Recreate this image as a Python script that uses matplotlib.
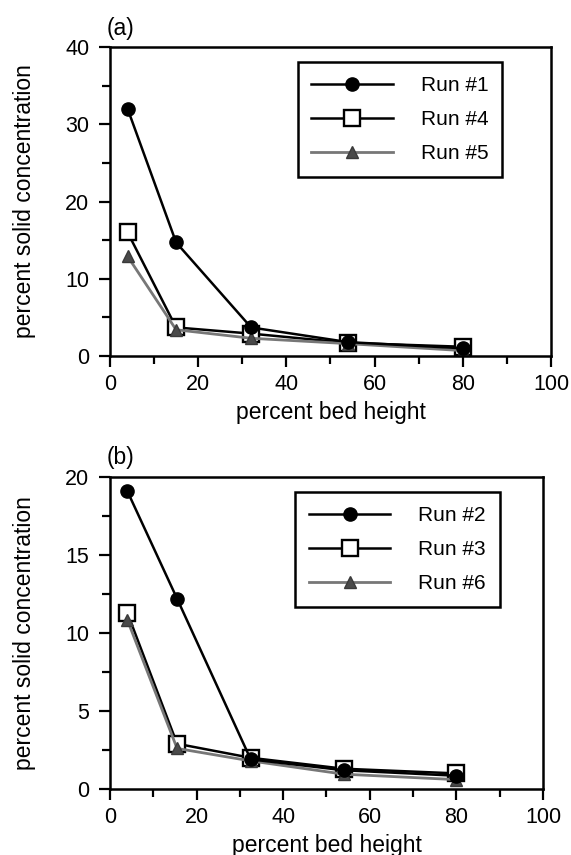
import numpy as np
import matplotlib.pyplot as plt
from matplotlib.ticker import MultipleLocator

plt.rcParams['font.family'] = ['Liberation Sans', 'DejaVu Sans']

# panel (a)
x_a = [4, 15, 32, 54, 80]
run1 = [32.0, 14.7, 3.7, 1.8, 1.0]
run4 = [16.0, 3.7, 2.9, 1.7, 1.2]
run5 = [12.9, 3.4, 2.3, 1.6, 0.7]

# panel (b)
x_b = [4, 15.5, 32.5, 54, 80]
run2 = [19.1, 12.2, 1.9, 1.2, 0.85]
run3 = [11.3, 2.9, 2.0, 1.3, 1.0]
run6 = [10.85, 2.6, 1.8, 0.95, 0.6]

labels_a = ['Run #1', 'Run #4', 'Run #5']
labels_b = ['Run #2', 'Run #3', 'Run #6']


def draw_panel(ax, x, series, labels, ymax, ystep, tag, leg_x):
    s_circ, s_sq, s_tri = series
    ax.plot(x, s_circ, color='black', lw=1.8, marker='o', ms=9.5,
            mfc='black', mec='black', label=labels[0], zorder=3)
    ax.plot(x, s_sq, color='black', lw=1.8, marker='s', ms=11.5,
            mfc='white', mec='black', mew=1.7, label=labels[1], zorder=2)
    ax.plot(x, s_tri, color='#777777', lw=2.0, ls='-', marker='^', ms=8,
            mfc='#4a4a4a', mec='#3a3a3a', label=labels[2], zorder=2.5)

    ax.set_xlim(0, 100)
    ax.set_ylim(0, ymax)
    ax.xaxis.set_major_locator(MultipleLocator(20))
    ax.xaxis.set_minor_locator(MultipleLocator(10))
    ax.yaxis.set_major_locator(MultipleLocator(ystep))
    ax.yaxis.set_minor_locator(MultipleLocator(ystep / 2))
    ax.tick_params(which='both', direction='out', width=1.6, top=False, right=False)
    ax.tick_params(which='major', length=8, labelsize=15.5)
    ax.tick_params(which='minor', length=6)
    ax.tick_params(axis='x', which='major', pad=5)
    ax.tick_params(axis='y', which='major', pad=7)
    for sp in ax.spines.values():
        sp.set_linewidth(1.8)

    ax.set_xlabel('percent bed height', fontsize=16.5, labelpad=4)
    ax.set_ylabel('percent solid concentration', fontsize=16.5, labelpad=21)
    ax.text(-0.007, 1.061, tag, transform=ax.transAxes, fontsize=16.5,
            ha='left', va='center')

    leg = ax.legend(loc='upper right', bbox_to_anchor=(leg_x, 0.951), fontsize=15,
                    frameon=True, fancybox=False, edgecolor='black',
                    handlelength=3.9, handletextpad=1.35, labelspacing=0.73,
                    borderpad=0.66, borderaxespad=0, framealpha=1)
    leg.get_frame().set_linewidth(1.8)


fig = plt.figure(figsize=(5.71, 8.55), dpi=100)
ax1 = fig.add_axes([0.1926, 0.5836, 0.7723, 0.3614])
ax2 = fig.add_axes([0.1926, 0.0772, 0.7583, 0.3649])

draw_panel(ax1, x_a, (run1, run4, run5), labels_a, 40, 10, '(a)', 0.889)
draw_panel(ax2, x_b, (run2, run3, run6), labels_b, 20, 5, '(b)', 0.90)

fig.savefig('out.png', dpi=100)
